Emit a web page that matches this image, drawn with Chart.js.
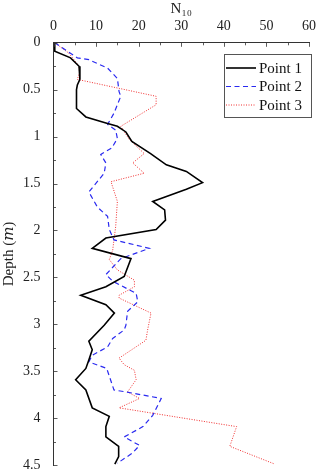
<!DOCTYPE html>
<html>
<head>
<meta charset="utf-8">
<script src="https://cdn.jsdelivr.net/npm/chart.js@4.4.1/dist/chart.umd.min.js"></script>
<style>
  html, body { margin: 0; padding: 0; background: #fff; }
  #wrap { width: 317px; height: 475px; }
</style>
</head>
<body>
<div id="wrap"><canvas id="chart"></canvas></div>
<script>
// Point 1 (solid black)
const point1Depth = [0, 0.09, 0.16, 0.25, 0.29, 0.39, 0.45, 0.5, 0.7, 0.79, 0.86, 0.89, 0.95, 1.05, 1.18, 1.3, 1.37, 1.49, 1.56, 1.69, 1.78, 1.89, 1.99, 2.08, 2.19, 2.3, 2.49, 2.6, 2.69, 2.79, 2.88, 3.01, 3.18, 3.27, 3.38, 3.47, 3.59, 3.7, 3.89, 3.98, 4.09, 4.2, 4.3, 4.41, 4.49];
const point1N = [0.3, 0.3, 4.0, 6.0, 6.2, 6.2, 5.6, 5.4, 5.4, 7.6, 12.7, 15.0, 17.0, 18.4, 22.8, 26.5, 31.2, 35.0, 31.2, 23.3, 26.1, 26.3, 24.1, 12.3, 9.1, 18.2, 16.6, 12.3, 6.4, 12.3, 14.3, 11.9, 8.3, 9.1, 8.3, 7.6, 5.2, 7.6, 9.1, 13.1, 12.3, 12.3, 15.3, 15.3, 14.4];

// Point 2 (dashed blue)
const point2Depth = [0, 0.16, 0.18, 0.27, 0.38, 0.52, 0.57, 0.75, 0.87, 0.93, 1.02, 1.12, 1.19, 1.28, 1.39, 1.59, 1.75, 1.85, 1.99, 2.1, 2.19, 2.3, 2.47, 2.54, 2.67, 2.76, 2.86, 3.01, 3.06, 3.15, 3.24, 3.33, 3.4, 3.47, 3.7, 3.72, 3.79, 3.97, 4.09, 4.2, 4.29, 4.37, 4.48];
const point2N = [0.3, 5.6, 8.3, 12.7, 15.0, 15.4, 15.8, 14.2, 12.7, 14.6, 15.0, 13.7, 11.1, 12.3, 11.9, 8.3, 10.3, 12.7, 13.1, 14.2, 22.5, 15.8, 12.3, 13.9, 19.4, 19.8, 17.4, 17.0, 16.6, 13.9, 12.7, 9.1, 8.3, 12.5, 14.2, 17.0, 25.3, 23.3, 21.0, 16.6, 20.2, 18.6, 15.0];

// Point 3 (dotted red)
const point3Depth = [0, 0.11, 0.25, 0.32, 0.39, 0.57, 0.66, 0.89, 1.03, 1.18, 1.28, 1.39, 1.48, 1.69, 1.96, 2.1, 2.21, 2.31, 2.42, 2.53, 2.6, 2.69, 2.72, 2.88, 3.06, 3.17, 3.36, 3.43, 3.49, 3.59, 3.72, 3.79, 3.89, 4.09, 4.3, 4.49];
const point3N = [0.3, 3.6, 6.0, 6.1, 5.6, 24.1, 24.1, 15.8, 17.8, 21.3, 18.6, 21.3, 13.5, 15.0, 14.6, 14.2, 13.9, 13.1, 15.0, 19.0, 19.0, 15.4, 15.4, 22.9, 22.1, 21.7, 15.4, 16.6, 19.0, 19.4, 17.4, 20.2, 15.4, 43.0, 41.4, 52.0];

const seriesLabels = ["Point 1", "Point 2", "Point 3"];
const xTicks = [0, 10, 20, 30, 40, 50, 60];
const yTicks = [0, 0.5, 1, 1.5, 2, 2.5, 3, 3.5, 4, 4.5];

const serif = "'Liberation Serif', 'DejaVu Serif', serif";

function toPoints(xs, ys) {
    return xs.map((v, i) => ({ x: v, y: ys[i] }));
}

// ticks drawn inward like pgfplots
const innerTicks = {
    id: "innerTicks",
    afterDraw(chart) {
        const ctx = chart.ctx;
        const a = chart.chartArea;
        const xs = chart.scales.x;
        const ys = chart.scales.y;
        ctx.save();
        ctx.strokeStyle = "#333";
        ctx.lineWidth = 0.8;
        ctx.beginPath();
        for (let v = 0; v <= 60; v += 5) {
            const px = Math.round(xs.getPixelForValue(v)) + 0.5;
            const len = v % 10 === 0 ? 4 : 2.5;
            ctx.moveTo(px, a.top);
            ctx.lineTo(px, a.top + len);
        }
        for (let v = 0; v <= 4.5; v += 0.25) {
            const py = Math.round(ys.getPixelForValue(v)) + 0.5;
            const len = Math.abs(v * 2 - Math.round(v * 2)) < 1e-6 ? 4 : 2.5;
            ctx.moveTo(a.left, py);
            ctx.lineTo(a.left + len, py);
        }
        ctx.stroke();
        ctx.restore();
    }
};

// legend box in the upper right, like the original
const boxLegend = {
    id: "boxLegend",
    afterDraw(chart) {
        const ctx = chart.ctx;
        const left = 224, top = 54, w = 87, h = 63;
        ctx.save();
        ctx.fillStyle = "#fff";
        ctx.fillRect(left, top, w, h);
        ctx.strokeStyle = "#555";
        ctx.lineWidth = 1;
        ctx.strokeRect(left + 0.5, top + 0.5, w, h);
        ctx.font = "15px " + serif;
        ctx.textBaseline = "middle";
        chart.data.datasets.forEach((ds, i) => {
            const y = top + 14 + i * 18.5;
            ctx.beginPath();
            ctx.strokeStyle = ds.borderColor;
            ctx.lineWidth = ds.borderWidth;
            ctx.setLineDash(ds.borderDash || []);
            ctx.moveTo(left + 2, y);
            ctx.lineTo(left + 32, y);
            ctx.stroke();
            ctx.setLineDash([]);
            ctx.fillStyle = "#111";
            ctx.fillText(ds.label, left + 35, y + 1);
        });
        ctx.restore();
    }
};

new Chart(document.getElementById("chart").getContext("2d"), {
    type: "scatter",
    data: {
        datasets: [
            {
                label: seriesLabels[0],
                data: toPoints(point1N, point1Depth),
                showLine: true,
                borderColor: "#000",
                borderWidth: 1.6,
                pointRadius: 0,
                tension: 0
            },
            {
                label: seriesLabels[1],
                data: toPoints(point2N, point2Depth),
                showLine: true,
                borderColor: "#2a2af0",
                borderWidth: 1.2,
                borderDash: [5, 3.5],
                pointRadius: 0,
                tension: 0
            },
            {
                label: seriesLabels[2],
                data: toPoints(point3N, point3Depth),
                showLine: true,
                borderColor: "#f03030",
                borderWidth: 1,
                borderDash: [1, 1.5],
                pointRadius: 0,
                tension: 0
            }
        ]
    },
    options: {
        responsive: true,
        maintainAspectRatio: false,
        animation: false,
        layout: { padding: { left: 0, right: 8, top: 0, bottom: 0 } },
        plugins: {
            legend: { display: false },
            tooltip: { enabled: false }
        },
        scales: {
            x: {
                type: "linear",
                position: "top",
                min: 0,
                max: 60,
                afterBuildTicks: (s) => { s.ticks = xTicks.map(v => ({ value: v })); },
                ticks: {
                    color: "#222",
                    font: { family: serif, size: 14 },
                    padding: 0,
                    maxRotation: 0
                },
                grid: { display: false },
                border: { display: true, color: "#333", width: 1 },
                title: {
                    display: true,
                    text: "N\u2081\u2080",
                    color: "#222",
                    font: { family: serif, size: 15 },
                    padding: { top: 0, bottom: 0 }
                }
            },
            y: {
                type: "linear",
                reverse: true,
                min: 0,
                max: 4.5,
                afterBuildTicks: (s) => { s.ticks = yTicks.map(v => ({ value: v })); },
                ticks: {
                    color: "#222",
                    font: { family: serif, size: 14, lineHeight: 0.7 },
                    padding: 5,
                    callback: (v) => String(v)
                },
                grid: { display: false },
                border: { display: true, color: "#333", width: 1 },
                title: {
                    display: true,
                    text: "Depth (\uD835\uDC5A)",
                    color: "#222",
                    font: { family: serif, size: 15 },
                    padding: { top: 0, bottom: 0 }
                }
            }
        }
    },
    plugins: [innerTicks, boxLegend]
});
</script>
</body>
</html>
